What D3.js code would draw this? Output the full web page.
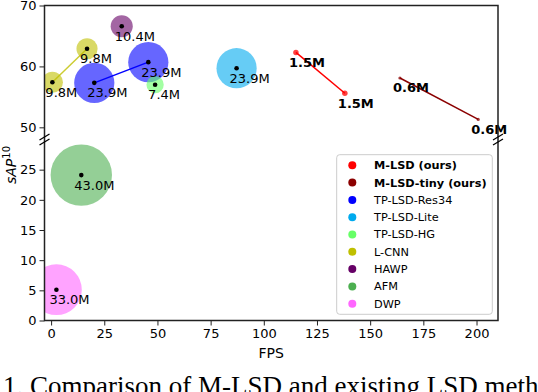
<!DOCTYPE html>
<html>
<head>
<meta charset="utf-8">
<script src="https://cdn.jsdelivr.net/npm/d3@7"></script>
<style>
  body { margin: 0; background: #fff; }
  svg { display: block; }
</style>
</head>
<body>
<svg id="chart"></svg>
<script>
// chart data
const methods = ["M-LSD (ours)", "M-LSD-tiny (ours)", "TP-LSD-Res34", "TP-LSD-Lite", "TP-LSD-HG", "L-CNN", "HAWP", "AFM", "DWP"];
const methodColors = ["#ff0000", "#8b0000", "#0000ff", "#00aaee", "#66ff66", "#bfbf00", "#660066", "#4caf50", "#ff66ff"];
const boldMethods = [true, true, false, false, false, false, false, false, false];

// one entry per point
const pointMethod = [0, 0, 1, 1, 2, 2, 3, 4, 5, 5, 6, 7, 8];
const pointFps    = [115.1, 138.1, 164.0, 200.8, 20.3, 45.7, 87.2, 48.9, 0.6, 16.9, 33.2, 14.2, 2.5];
const pointSap    = [62.3, 55.6, 58.1, 51.3, 57.3, 60.7, 59.7, 57.0, 57.4, 62.9, 66.6, 24.1, 5.1];
const pointParams = [1.5, 1.5, 0.6, 0.6, 23.9, 23.9, 23.9, 7.4, 9.8, 9.8, 10.4, 43.0, 33.0];
const pointLabels = ["1.5M", "1.5M", "0.6M", "0.6M", "23.9M", "23.9M", "23.9M", "7.4M", "9.8M", "9.8M", "10.4M", "43.0M", "33.0M"];

// methods joined by a line
const linkedMethods = [0, 1, 2, 5];

const xTicks = [0, 25, 50, 75, 100, 125, 150, 175, 200];
const yTopTicks = [50, 60, 70];
const yBottomTicks = [0, 5, 10, 15, 20, 25];

const w = 538;
const h = 392;
const padL = 44.5, padR = 498;
const padT = 5.5, breakY = 139.5, padB = 320.5;

const svg = d3.select("#chart").attr("width", w).attr("height", h)
  .style("font-family", "'DejaVu Sans', sans-serif");

const x = d3.scaleLinear().domain([-3.1, 210.1]).range([padL, padR]);
const yTop = d3.scaleLinear().domain([48, 70]).range([breakY, padT]);
const yBot = d3.scaleLinear().domain([0, 30]).range([padB, breakY]);
const r = d3.scalePow().exponent(0.72).domain([0, 43]).range([0, 30.7]);

// split points between the two panels
const yOf = (i) => pointSap[i] >= 40 ? yTop(pointSap[i]) : yBot(pointSap[i]);
const panelOf = (i) => pointSap[i] >= 40 ? "clipTop" : "clipBot";

const defs = svg.append("defs");
defs.append("clipPath").attr("id", "clipTop").append("rect")
  .attr("x", padL).attr("y", padT).attr("width", padR - padL).attr("height", breakY - padT);
defs.append("clipPath").attr("id", "clipBot").append("rect")
  .attr("x", padL).attr("y", breakY).attr("width", padR - padL).attr("height", padB - breakY);

const idx = d3.range(pointFps.length);
const bubbleIdx = idx.filter(i => pointMethod[i] > 1);
const smallIdx = idx.filter(i => pointMethod[i] <= 1);

// bubbles
svg.append("g").selectAll("circle")
  .data(bubbleIdx)
  .enter()
  .append("circle")
  .attr("clip-path", i => "url(#" + panelOf(i) + ")")
  .attr("cx", i => x(pointFps[i]))
  .attr("cy", i => yOf(i))
  .attr("r", i => r(pointParams[i]))
  .attr("fill", i => methodColors[pointMethod[i]])
  .attr("fill-opacity", 0.6);

// connecting lines
linkedMethods.forEach(m => {
  const pts = idx.filter(i => pointMethod[i] === m);
  svg.append("path")
    .attr("d", d3.line().x(i => x(pointFps[i])).y(i => yOf(i))(pts))
    .attr("fill", "none")
    .attr("stroke", methodColors[m])
    .attr("stroke-opacity", m === 5 ? 0.8 : 1)
    .attr("stroke-width", 1.5);
});

// M-LSD markers
svg.append("g").selectAll("circle")
  .data(smallIdx)
  .enter()
  .append("circle")
  .attr("cx", i => x(pointFps[i]))
  .attr("cy", i => yOf(i))
  .attr("r", i => Math.max(r(pointParams[i]), 1.6))
  .attr("fill", i => methodColors[pointMethod[i]])
  .attr("fill-opacity", 0.75);

// black centre dots
svg.append("g").selectAll("circle")
  .data(bubbleIdx)
  .enter()
  .append("circle")
  .attr("cx", i => x(pointFps[i]))
  .attr("cy", i => yOf(i))
  .attr("r", 2.3)
  .attr("fill", "#000");

// parameter labels
svg.append("g").selectAll("text")
  .data(idx)
  .enter()
  .append("text")
  .attr("x", i => x(pointFps[i]) - 7)
  .attr("y", i => yOf(i) + 14.5)
  .attr("font-size", 13)
  .attr("font-weight", i => pointMethod[i] <= 1 ? "bold" : "normal")
  .attr("fill", "#000")
  .text(i => pointLabels[i]);

// axes
const styleAxis = (g) => {
  g.select(".domain").remove();
  g.selectAll("line").attr("stroke", "#222").attr("stroke-width", 1);
  g.selectAll("text").attr("font-size", 13).attr("font-family", "'DejaVu Sans', sans-serif").attr("fill", "#000");
};

svg.append("g")
  .attr("transform", "translate(" + padL + ",0)")
  .call(d3.axisLeft(yTop).tickValues(yTopTicks).tickSize(5).tickPadding(3))
  .call(styleAxis);

svg.append("g")
  .attr("transform", "translate(" + padL + ",0)")
  .call(d3.axisLeft(yBot).tickValues(yBottomTicks).tickSize(5).tickPadding(3))
  .call(styleAxis);

svg.append("g")
  .attr("transform", "translate(0," + padB + ")")
  .call(d3.axisBottom(x).tickValues(xTicks).tickSize(5).tickPadding(3))
  .call(styleAxis);

// frame
svg.append("path")
  .attr("d", "M" + padL + "," + padB + "V" + padT + "H" + padR + "V" + padB + "Z")
  .attr("fill", "none")
  .attr("stroke", "#222")
  .attr("stroke-width", 1.5);

// break marks
[padL, padR].forEach(bx => {
  [breakY - 2.5, breakY + 2.5].forEach(by => {
    svg.append("line")
      .attr("x1", bx - 5).attr("y1", by + 3)
      .attr("x2", bx + 5).attr("y2", by - 3)
      .attr("stroke", "#000")
      .attr("stroke-width", 1.3);
  });
});

// axis titles
svg.append("text")
  .attr("x", (padL + padR) / 2)
  .attr("y", 358)
  .attr("text-anchor", "middle")
  .attr("font-size", 14)
  .text("FPS");

const yLabel = svg.append("text")
  .attr("transform", "translate(16,165) rotate(-90)")
  .attr("text-anchor", "middle")
  .attr("font-size", 14);
yLabel.append("tspan").attr("font-style", "italic").text("sAP");
yLabel.append("tspan").attr("font-size", 10).attr("dy", -6).text("10");

// legend
const lg = svg.append("g").attr("transform", "translate(336.7,154.7)");
lg.append("rect")
  .attr("width", 155.6).attr("height", 159.6)
  .attr("rx", 3)
  .attr("fill", "#fff").attr("fill-opacity", 0.8)
  .attr("stroke", "#ccc");
const rows = lg.selectAll("g.row")
  .data(methods)
  .enter()
  .append("g")
  .attr("class", "row")
  .attr("transform", (d, i) => "translate(0," + (10.6 + i * 17.3) + ")");
rows.append("circle")
  .attr("cx", 15.6).attr("r", 4)
  .attr("fill", (d, i) => methodColors[i]);
rows.append("text")
  .attr("x", 37.3)
  .attr("dy", "0.35em")
  .attr("font-size", 11.3)
  .attr("font-weight", (d, i) => boldMethods[i] ? "bold" : "normal")
  .text(d => d);

// caption (cut by the picture edge)
svg.append("text")
  .attr("x", 3)
  .attr("y", 395)
  .attr("font-family", "'Liberation Serif', 'Times New Roman', serif")
  .attr("font-size", 27)
  .text("1. Comparison of M-LSD and existing LSD methods");
</script>
</body>
</html>
